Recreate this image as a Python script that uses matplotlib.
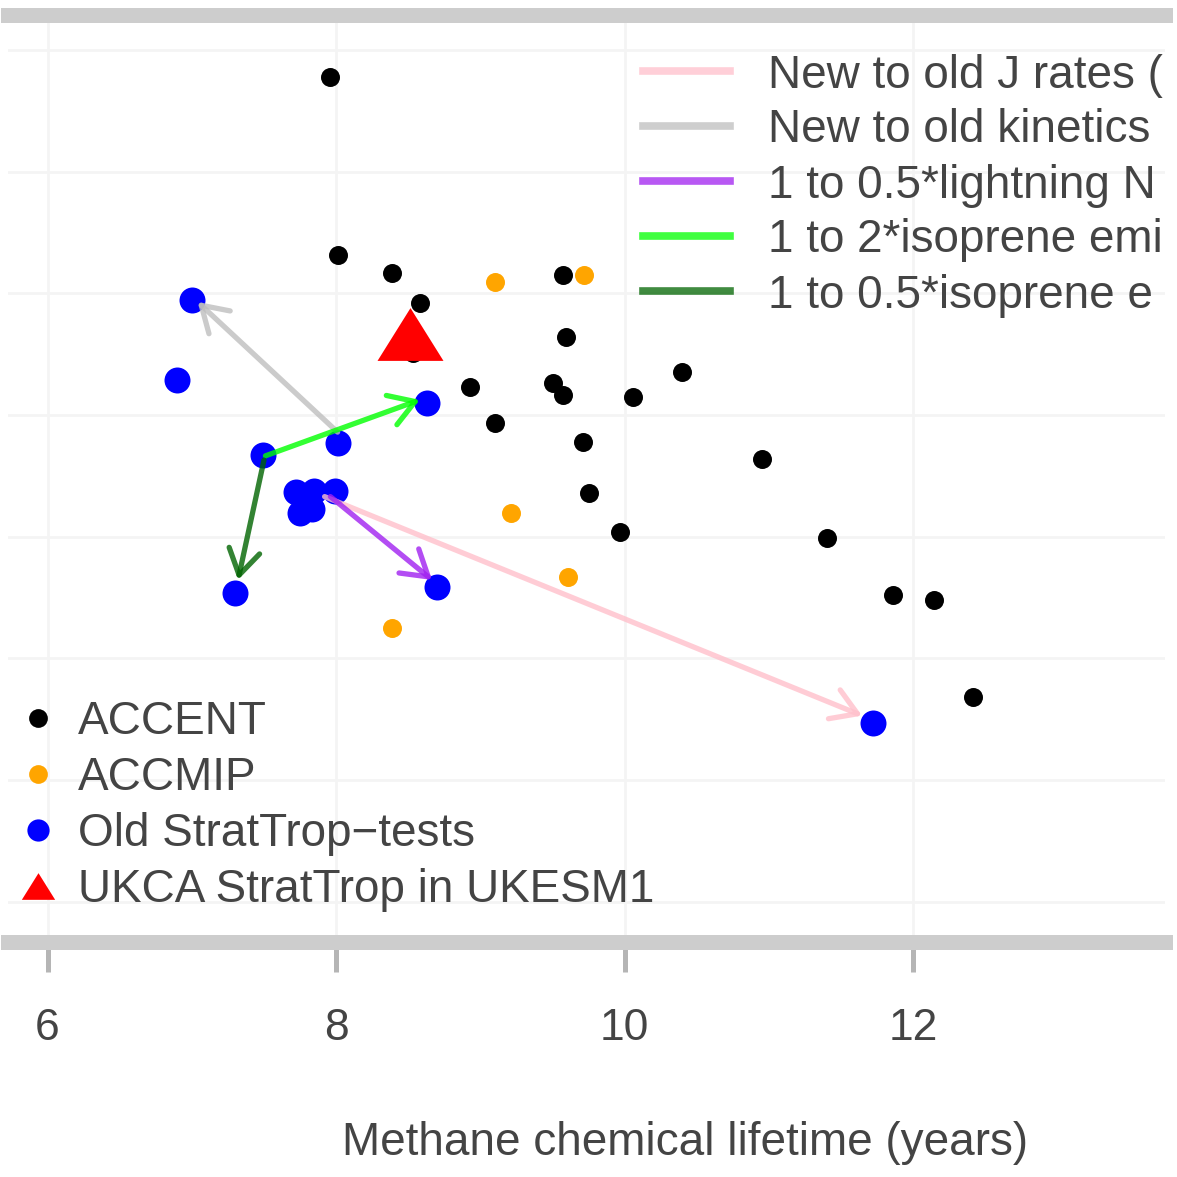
import matplotlib
matplotlib.use("Agg")
import matplotlib.pyplot as plt
from matplotlib.lines import Line2D

plt.rcParams['font.family'] = ['Liberation Sans', 'DejaVu Sans']

# ---------------- data ----------------
accent_x = [7.96, 8.01, 8.39, 8.58, 8.53, 9.57, 9.59, 8.93, 9.50, 9.57, 9.10,
            10.06, 10.40, 9.71, 10.95, 9.75, 9.97, 11.40, 11.86, 12.14, 12.41]
accent_y = [395.6, 366.3, 363.4, 358.4, 350.2, 363.0, 352.8, 344.6, 345.3, 343.3, 338.7,
            343.0, 347.1, 335.6, 332.8, 327.2, 320.8, 319.8, 310.5, 309.6, 293.7]

accmip_x = [9.10, 9.72, 9.21, 9.61, 8.39]
accmip_y = [361.9, 363.0, 323.9, 313.4, 305.0]

old_x = [7.00, 6.90, 8.01, 7.49, 8.63, 7.72, 7.85, 7.99, 7.75, 7.83, 7.80, 7.30, 8.70, 11.72]
old_y = [358.9, 345.8, 335.4, 333.5, 342.0, 327.4, 327.5, 327.6, 323.9, 324.5, 325.8, 310.8, 311.8, 289.4]

ukca_x = [8.51]
ukca_y = [353.3]

point_labels = ["ACCENT", "ACCMIP", "Old StratTrop\u2212tests", "UKCA StratTrop in UKESM1"]
point_colors = ["black", "#FFA500", "#0000FF", "#FF0000"]

# labels as far as they are visible in the (cropped) reference
arrow_labels = ["New to old J rates (", "New to old kinetics",
                "1 to 0.5*lightning N", "1 to 2*isoprene emi",
                "1 to 0.5*isoprene e"]
arrow_colors = ["#FFC0CB", "#BEBEBE", "#A020F0", "#00FF00", "#006400"]
arrow_x0 = [7.92, 8.01, 7.96, 7.51, 7.50]
arrow_y0 = [326.6, 337.2, 326.6, 333.3, 332.6]
arrow_x1 = [11.645, 7.04, 8.665, 8.58, 7.32]
arrow_y1 = [290.6, 358.6, 312.9, 342.5, 312.9]

x_ticks = [6, 8, 10, 12]
x_ticklabels = ["6", "8", "10", "12"]
y_grid = [260, 280, 300, 320, 340, 360, 380, 400]
x_label = "Methane chemical lifetime (years)"

# ---------------- layout ----------------
W = 1177.0
fig = plt.figure(figsize=(11.77, 11.77), dpi=100)
L, R, T, B = 8, 1165, 15, 942
ax = fig.add_axes([L / W, 1 - B / W, (R - L) / W, (B - T) / W])
ax.set_xlim(5.726, 13.744)
ax.set_ylim(253.4, 405.75)

for s in ["left", "right"]:
    ax.spines[s].set_visible(False)
for s in ["top", "bottom"]:
    ax.spines[s].set_color("#cdcdcd")
    ax.spines[s].set_linewidth(10.8)

ax.set_xticks(x_ticks)
ax.set_xticklabels(x_ticklabels)
ax.set_yticks(y_grid)
ax.tick_params(axis="y", left=False, labelleft=False)
ax.tick_params(axis="x", direction="out", length=21.6, width=3.6, color="#b5b5b5",
               pad=26, labelsize=32, labelcolor="#444444")
ax.grid(True, color="#f4f4f4", lw=2.0)
ax.set_axisbelow(True)

TXT = "#444444"
ax.set_xlabel(x_label, fontsize=33, color=TXT, labelpad=52, x=(685 - L) / (R - L), ha="center")

# ---------------- marks ----------------
ax.scatter(accent_x, accent_y, s=187, color=point_colors[0], linewidths=0, zorder=3)
ax.scatter(accmip_x, accmip_y, s=187, color=point_colors[1], linewidths=0, zorder=3)
ax.scatter(old_x, old_y, s=350, color=point_colors[2], linewidths=0, zorder=3)

for x0, y0, x1, y1, c in zip(arrow_x0, arrow_y0, arrow_x1, arrow_y1, arrow_colors):
    ax.annotate("", xy=(x1, y1), xytext=(x0, y0),
                arrowprops=dict(arrowstyle="->,head_length=0.45,head_width=0.28",
                                mutation_scale=40, color=c, lw=3.8, alpha=0.8,
                                shrinkA=0, shrinkB=0), zorder=4)

tri = [(-1, -0.8), (1, -0.8), (0, 0.8)]
ax.scatter(ukca_x, ukca_y, s=47.5 ** 2, marker=tri, color=point_colors[3], linewidths=0, zorder=5)

# ---------------- legends ----------------
fs = 33
arrow_handles = [Line2D([], [], color=c, lw=5.5, alpha=0.75) for c in arrow_colors]
leg1 = ax.legend(arrow_handles, arrow_labels, loc="upper left",
                 bbox_to_anchor=(643 / W, 1 - 53.5 / W), bbox_transform=fig.transFigure,
                 frameon=False, borderpad=0, borderaxespad=0, fontsize=fs,
                 handlelength=1.89, handletextpad=0.83, labelspacing=0.24,
                 labelcolor=TXT)
ax.add_artist(leg1)

pt_handles = [
    Line2D([], [], ls="", marker="o", markersize=13.5, color=point_colors[0], markeredgewidth=0),
    Line2D([], [], ls="", marker="o", markersize=13.5, color=point_colors[1], markeredgewidth=0),
    Line2D([], [], ls="", marker="o", markersize=16, color=point_colors[2], markeredgewidth=0),
    Line2D([], [], ls="", marker=tri, markersize=24, color=point_colors[3], markeredgewidth=0),
]
leg2 = ax.legend(pt_handles, point_labels, loc="upper left",
                 bbox_to_anchor=(19.7 / W, 1 - 700.5 / W), bbox_transform=fig.transFigure,
                 frameon=False, borderpad=0, borderaxespad=0, fontsize=fs,
                 handlelength=0.8, handletextpad=0.47, labelspacing=0.26,
                 labelcolor=TXT)

fig.savefig("out.png", dpi=100)
